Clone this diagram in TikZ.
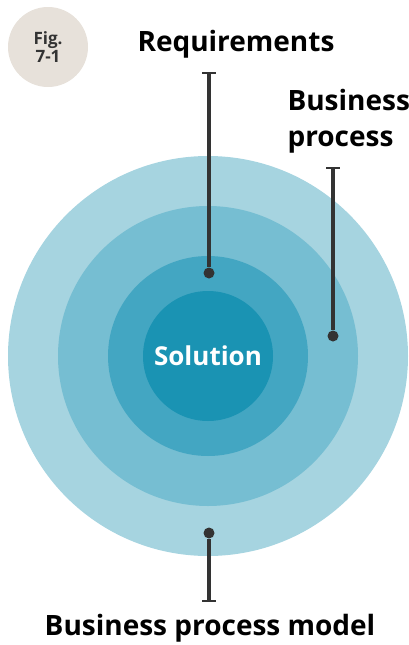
\documentclass[tikz,border=0pt]{standalone}
\usepackage{fontspec}
\setmainfont{Open Sans}
\usetikzlibrary{positioning}
\definecolor{ringA}{HTML}{A6D4E0}
\definecolor{ringB}{HTML}{76BED2}
\definecolor{ringC}{HTML}{43A6C2}
\definecolor{ringD}{HTML}{1A93B3}
\definecolor{figBg}{HTML}{E7E1DA}
\definecolor{ink}{HTML}{333333}
\begin{document}
\begin{tikzpicture}[
  x=1pt, y=-1pt,
  ring/.style={circle, draw=none, inner sep=0pt},
  pin/.style={circle, fill=ink, inner sep=0pt, minimum size=11pt},
  lead/.style={draw=ink, line width=3.2pt},
  bar/.style={draw=ink, line width=2.6pt},
  label/.style={font=\fontsize{28}{36}\selectfont\bfseries, text=black},
  figtag/.style={circle, fill=figBg, inner sep=0pt, minimum size=80pt,
    font=\fontsize{17}{18}\selectfont\bfseries, text=ink, align=center}
]
  %% --- geometria (unita': px) ---
  \def\cx{208}
  \def\cy{356}
  \useasboundingbox (0,0) rectangle (409,645);

  %% --- anelli concentrici ---
  \node[ring, fill=ringA, minimum size=400pt] (outer) at (\cx,\cy) {};
  \node[ring, fill=ringB, minimum size=300pt] (middle) at (\cx,\cy) {};
  \node[ring, fill=ringC, minimum size=200pt] (inner) at (\cx,\cy) {};
  \node[ring, fill=ringD, minimum size=130pt, text=white,
    font=\fontsize{26}{30}\selectfont\bfseries] (core) at (\cx,\cy) {Solution};

  %% --- etichetta figura ---
  \node[figtag] (fig) at (48,47) {Fig.\\7-1};

  %% --- richiami ---
  \node[pin] (pReq) at (209,273) {};
  \coordinate (tReq) at (209,73);
  \draw[lead] (pReq) -- (tReq);
  \draw[bar] ([xshift=-7pt]tReq) -- ([xshift=7pt]tReq);
  \node[label] (lReq) at (236,44) {Requirements};

  \node[pin] (pBp) at (333,336) {};
  \coordinate (tBp) at (333,168);
  \draw[lead] (pBp) -- (tBp);
  \draw[bar] ([xshift=-7pt]tBp) -- ([xshift=7pt]tBp);
  \node[label, align=left, anchor=west] (lBp) at (284,121) {Business\\process};

  \node[pin] (pBpm) at (209,533) {};
  \coordinate (tBpm) at (209,601);
  \draw[lead] (pBpm) -- (tBpm);
  \draw[bar] ([xshift=-7pt]tBpm) -- ([xshift=7pt]tBpm);
  \node[label] (lBpm) at (210,628) {Business process model};
\end{tikzpicture}
\end{document}
